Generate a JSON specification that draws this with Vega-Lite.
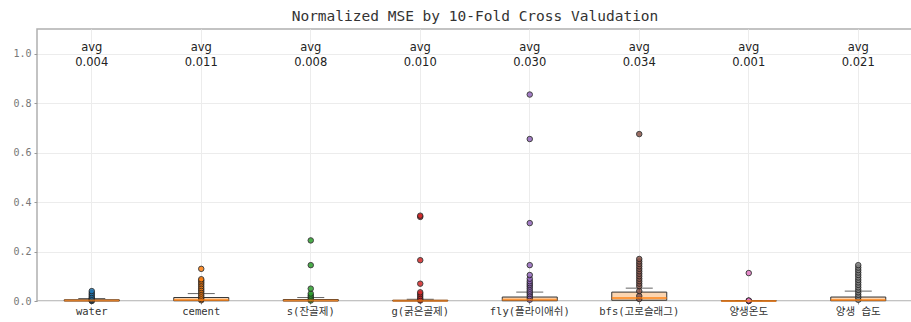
{
  "$schema": "https://vega.github.io/schema/vega-lite/v6.json",
  "autosize": "none",
  "padding": {"left": 37, "top": 29, "right": 0, "bottom": 21},
  "width": 876,
  "height": 272,
  "background": "white",
  "config": {
    "view": {"stroke": "#b0b0b0", "strokeWidth": 1.5},
    "title": {"font": "DejaVu Sans Mono", "fontSize": 14.5, "fontWeight": "normal", "color": "#333", "offset": 5}
  },
  "title": "Normalized MSE by 10-Fold Cross Valudation",
  "datasets": {
    "boxes": [
      {"cat": "water", "lo": 0.0, "q1": 0.0, "median": 0.002, "q3": 0.005, "hi": 0.01, "avg": 0.004},
      {"cat": "cement", "lo": 0.0, "q1": 0.001, "median": 0.004, "q3": 0.014, "hi": 0.03, "avg": 0.011},
      {"cat": "s(잔골제)", "lo": 0.0, "q1": 0.0, "median": 0.002, "q3": 0.006, "hi": 0.014, "avg": 0.008},
      {"cat": "g(굵은골제)", "lo": 0.0, "q1": 0.0, "median": 0.001, "q3": 0.003, "hi": 0.007, "avg": 0.010},
      {"cat": "fly(플라이애쉬)", "lo": 0.0, "q1": 0.001, "median": 0.005, "q3": 0.016, "hi": 0.036, "avg": 0.030},
      {"cat": "bfs(고로슬래그)", "lo": 0.0, "q1": 0.003, "median": 0.012, "q3": 0.036, "hi": 0.052, "avg": 0.034},
      {"cat": "양생온도", "lo": 0.0, "q1": 0.0, "median": 0.0, "q3": 0.001, "hi": 0.002, "avg": 0.001},
      {"cat": "양생 습도", "lo": 0.0, "q1": 0.001, "median": 0.004, "q3": 0.016, "hi": 0.04, "avg": 0.021}
    ],
    "points": [
      {"cat": "water", "v": 0.0}, {"cat": "water", "v": 0.002}, {"cat": "water", "v": 0.005}, {"cat": "water", "v": 0.008},
      {"cat": "water", "v": 0.012}, {"cat": "water", "v": 0.018}, {"cat": "water", "v": 0.025}, {"cat": "water", "v": 0.032}, {"cat": "water", "v": 0.04},
      {"cat": "cement", "v": 0.003}, {"cat": "cement", "v": 0.008}, {"cat": "cement", "v": 0.015}, {"cat": "cement", "v": 0.022},
      {"cat": "cement", "v": 0.03}, {"cat": "cement", "v": 0.038}, {"cat": "cement", "v": 0.045}, {"cat": "cement", "v": 0.052},
      {"cat": "cement", "v": 0.06}, {"cat": "cement", "v": 0.068}, {"cat": "cement", "v": 0.075}, {"cat": "cement", "v": 0.082},
      {"cat": "cement", "v": 0.088}, {"cat": "cement", "v": 0.13},
      {"cat": "s(잔골제)", "v": 0.002}, {"cat": "s(잔골제)", "v": 0.008}, {"cat": "s(잔골제)", "v": 0.015}, {"cat": "s(잔골제)", "v": 0.022},
      {"cat": "s(잔골제)", "v": 0.03}, {"cat": "s(잔골제)", "v": 0.05}, {"cat": "s(잔골제)", "v": 0.145}, {"cat": "s(잔골제)", "v": 0.245},
      {"cat": "g(굵은골제)", "v": 0.002}, {"cat": "g(굵은골제)", "v": 0.006}, {"cat": "g(굵은골제)", "v": 0.012}, {"cat": "g(굵은골제)", "v": 0.02},
      {"cat": "g(굵은골제)", "v": 0.028}, {"cat": "g(굵은골제)", "v": 0.035}, {"cat": "g(굵은골제)", "v": 0.07}, {"cat": "g(굵은골제)", "v": 0.165},
      {"cat": "g(굵은골제)", "v": 0.34}, {"cat": "g(굵은골제)", "v": 0.345},
      {"cat": "fly(플라이애쉬)", "v": 0.005}, {"cat": "fly(플라이애쉬)", "v": 0.012}, {"cat": "fly(플라이애쉬)", "v": 0.02}, {"cat": "fly(플라이애쉬)", "v": 0.028},
      {"cat": "fly(플라이애쉬)", "v": 0.035}, {"cat": "fly(플라이애쉬)", "v": 0.042}, {"cat": "fly(플라이애쉬)", "v": 0.05}, {"cat": "fly(플라이애쉬)", "v": 0.058},
      {"cat": "fly(플라이애쉬)", "v": 0.065}, {"cat": "fly(플라이애쉬)", "v": 0.072}, {"cat": "fly(플라이애쉬)", "v": 0.08}, {"cat": "fly(플라이애쉬)", "v": 0.09},
      {"cat": "fly(플라이애쉬)", "v": 0.105}, {"cat": "fly(플라이애쉬)", "v": 0.145}, {"cat": "fly(플라이애쉬)", "v": 0.315}, {"cat": "fly(플라이애쉬)", "v": 0.655},
      {"cat": "fly(플라이애쉬)", "v": 0.835},
      {"cat": "bfs(고로슬래그)", "v": 0.008}, {"cat": "bfs(고로슬래그)", "v": 0.02}, {"cat": "bfs(고로슬래그)", "v": 0.04}, {"cat": "bfs(고로슬래그)", "v": 0.06},
      {"cat": "bfs(고로슬래그)", "v": 0.07}, {"cat": "bfs(고로슬래그)", "v": 0.08}, {"cat": "bfs(고로슬래그)", "v": 0.09}, {"cat": "bfs(고로슬래그)", "v": 0.1},
      {"cat": "bfs(고로슬래그)", "v": 0.11}, {"cat": "bfs(고로슬래그)", "v": 0.12}, {"cat": "bfs(고로슬래그)", "v": 0.13}, {"cat": "bfs(고로슬래그)", "v": 0.14},
      {"cat": "bfs(고로슬래그)", "v": 0.15}, {"cat": "bfs(고로슬래그)", "v": 0.16}, {"cat": "bfs(고로슬래그)", "v": 0.17}, {"cat": "bfs(고로슬래그)", "v": 0.675},
      {"cat": "양생온도", "v": 0.0}, {"cat": "양생온도", "v": 0.001}, {"cat": "양생온도", "v": 0.002}, {"cat": "양생온도", "v": 0.113},
      {"cat": "양생 습도", "v": 0.005}, {"cat": "양생 습도", "v": 0.015}, {"cat": "양생 습도", "v": 0.025}, {"cat": "양생 습도", "v": 0.035},
      {"cat": "양생 습도", "v": 0.045}, {"cat": "양생 습도", "v": 0.055}, {"cat": "양생 습도", "v": 0.065}, {"cat": "양생 습도", "v": 0.075},
      {"cat": "양생 습도", "v": 0.085}, {"cat": "양생 습도", "v": 0.095}, {"cat": "양생 습도", "v": 0.105}, {"cat": "양생 습도", "v": 0.115},
      {"cat": "양생 습도", "v": 0.125}, {"cat": "양생 습도", "v": 0.135}, {"cat": "양생 습도", "v": 0.145}
    ]
  },
  "encoding": {
    "x": {
      "field": "cat", "type": "nominal", "sort": null, "title": null,
      "scale": {"domain": ["water", "cement", "s(잔골제)", "g(굵은골제)", "fly(플라이애쉬)", "bfs(고로슬래그)", "양생온도", "양생 습도"], "paddingInner": 0, "paddingOuter": 0},
      "axis": {
        "labelAngle": 0, "labelFont": "DejaVu Sans Mono, Noto Sans CJK KR", "labelFontSize": 10.5, "labelColor": "#333",
        "grid": true, "gridColor": "#ececec", "bandPosition": 0.5, "domain": false,
        "tickColor": "#999", "tickSize": 3, "labelPadding": 2
      }
    }
  },
  "layer": [
    {
      "data": {"name": "boxes"},
      "mark": {"type": "rule", "color": "#222", "strokeWidth": 1},
      "encoding": {
        "y": {"field": "lo", "type": "quantitative", "title": null,
          "scale": {"domain": [0, 1.1], "nice": false},
          "axis": {"values": [0, 0.2, 0.4, 0.6, 0.8, 1.0], "format": ".1f", "labelFont": "DejaVu Sans Mono", "labelFontSize": 10, "labelColor": "#777",
            "gridColor": "#ececec", "domain": false, "tickColor": "#999", "tickSize": 3, "labelPadding": 3}},
        "y2": {"field": "hi"}
      }
    },
    {
      "data": {"name": "boxes"},
      "mark": {"type": "bar", "size": 55, "fill": "#fcd5b0", "stroke": "#333", "strokeWidth": 1},
      "encoding": {
        "y": {"field": "q1", "type": "quantitative"},
        "y2": {"field": "q3"}
      }
    },
    {
      "data": {"name": "boxes"},
      "mark": {"type": "tick", "size": 27, "color": "#222", "thickness": 1},
      "encoding": {"y": {"field": "hi", "type": "quantitative"}}
    },
    {
      "data": {"name": "points"},
      "mark": {"type": "point", "filled": true, "size": 30, "stroke": "#222", "strokeWidth": 1, "opacity": 0.85},
      "encoding": {
        "y": {"field": "v", "type": "quantitative"},
        "fill": {"field": "cat", "type": "nominal", "legend": null, "sort": null,
          "scale": {"domain": ["water", "cement", "s(잔골제)", "g(굵은골제)", "fly(플라이애쉬)", "bfs(고로슬래그)", "양생온도", "양생 습도"],
            "range": ["#1f77b4", "#ff7f0e", "#2ca02c", "#d62728", "#9467bd", "#8c564b", "#e377c2", "#7f7f7f"]}}
      }
    },
    {
      "data": {"name": "boxes"},
      "mark": {"type": "tick", "size": 55, "color": "#ff7f0e", "thickness": 2},
      "encoding": {"y": {"field": "median", "type": "quantitative"}}
    },
    {
      "data": {"name": "boxes"},
      "mark": {"type": "text", "font": "DejaVu Sans", "fontSize": 11.5, "color": "#222", "baseline": "middle"},
      "encoding": {"y": {"datum": 1.022}, "text": {"value": "avg"}}
    },
    {
      "data": {"name": "boxes"},
      "mark": {"type": "text", "font": "DejaVu Sans", "fontSize": 11.5, "color": "#222", "baseline": "middle"},
      "encoding": {"y": {"datum": 0.962}, "text": {"field": "avg", "type": "quantitative", "format": ".3f"}}
    }
  ]
}
